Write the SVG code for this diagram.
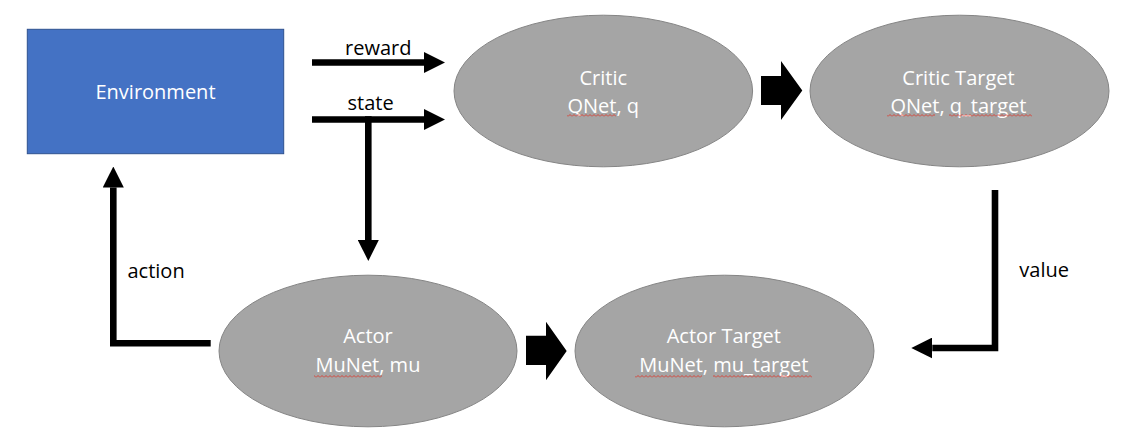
<svg xmlns="http://www.w3.org/2000/svg" width="1132" height="448" viewBox="0 0 1132 448">
  <style>
    .lbl { font-family: "Open Sans", "Noto Sans", sans-serif; font-size: 20px; fill: #000000; }
    .wt { font-family: "Open Sans", "Noto Sans", sans-serif; font-size: 20px; fill: #FFFFFF; text-anchor: middle; }
    .oval { fill: #A5A5A5; stroke: #858585; stroke-width: 1; }
    .conn { fill: none; stroke: #000000; stroke-width: 6.6; stroke-linejoin: miter; stroke-linecap: butt; }
    .block { fill: #000000; }
    .sq { fill: url(#squiggle); }
  </style>
  <defs>
    <marker id="head" markerUnits="userSpaceOnUse" markerWidth="21" markerHeight="21" refX="0" refY="10.5" orient="auto" viewBox="0 0 21 21">
      <path d="M0,0 L21,10.5 L0,21 Z" fill="#000000"/>
    </marker>
    <pattern id="squiggle" patternUnits="userSpaceOnUse" x="0" y="0" width="4" height="3">
      <path d="M0,2.5 L2,0.5 L4,2.5" fill="none" stroke="#E02A1E" stroke-width="0.8"/>
    </pattern>
  </defs>
  <rect width="1132" height="448" fill="#FFFFFF"/>

  <g id="connectors">
    <path class="conn" d="M312,62.5 H424" marker-end="url(#head)"/>
    <path class="conn" d="M312,119.5 H424" marker-end="url(#head)"/>
    <path class="conn" d="M368.3,116.2 V240" marker-end="url(#head)"/>
    <path class="conn" d="M210.7,343.3 H113.3 V187.5" marker-end="url(#head)"/>
    <path class="conn" d="M995,190 V348 H932.3" marker-end="url(#head)"/>
    <path class="block" d="M761,76 H781 V61 L802.3,90.5 L781,120 V105 H761 Z"/>
    <path class="block" d="M526,335.7 H546 V321.7 L566.7,351 L546,380.3 V365 H526 Z"/>
    <text class="lbl" x="345" y="55">reward</text>
    <text class="lbl" x="347.5" y="110">state</text>
    <text class="lbl" x="127.5" y="277.7">action</text>
    <text class="lbl" x="1019.3" y="277.3">value</text>
  </g>

  <g id="environment">
    <rect x="27.3" y="29.3" width="256.4" height="124.4" fill="#4472C4" stroke="#2F528F" stroke-width="1"/>
    <text class="wt" x="155.5" y="99.3">Environment</text>
  </g>

  <g id="critic">
    <ellipse class="oval" cx="603.3" cy="91" rx="149.3" ry="75.8"/>
    <text class="wt" x="603.3" y="85">Critic</text>
    <text class="wt" x="603.3" y="112.5">QNet, q</text>
    <rect class="sq" x="567" y="114" width="49" height="3"/>
  </g>

  <g id="critic-target">
    <ellipse class="oval" cx="959.5" cy="91" rx="149.5" ry="75.8"/>
    <text class="wt" x="958.5" y="85">Critic Target</text>
    <text class="wt" x="958.5" y="112.5">QNet, q_target</text>
    <rect class="sq" x="887" y="114" width="48" height="3"/>
    <rect class="sq" x="949" y="114" width="83" height="3"/>
  </g>

  <g id="actor">
    <ellipse class="oval" cx="368" cy="351" rx="149" ry="75.8"/>
    <text class="wt" x="368" y="343.3">Actor</text>
    <text class="wt" x="368" y="371.5">MuNet, mu</text>
    <rect class="sq" x="314" y="375" width="68" height="3"/>
  </g>

  <g id="actor-target">
    <ellipse class="oval" cx="724.5" cy="351" rx="149.5" ry="75.8"/>
    <text class="wt" x="723.8" y="343.3">Actor Target</text>
    <text class="wt" x="723.8" y="371.5">MuNet, mu_target</text>
    <rect class="sq" x="635" y="375" width="67" height="3"/>
    <rect class="sq" x="713" y="375" width="99" height="3"/>
  </g>
</svg>
